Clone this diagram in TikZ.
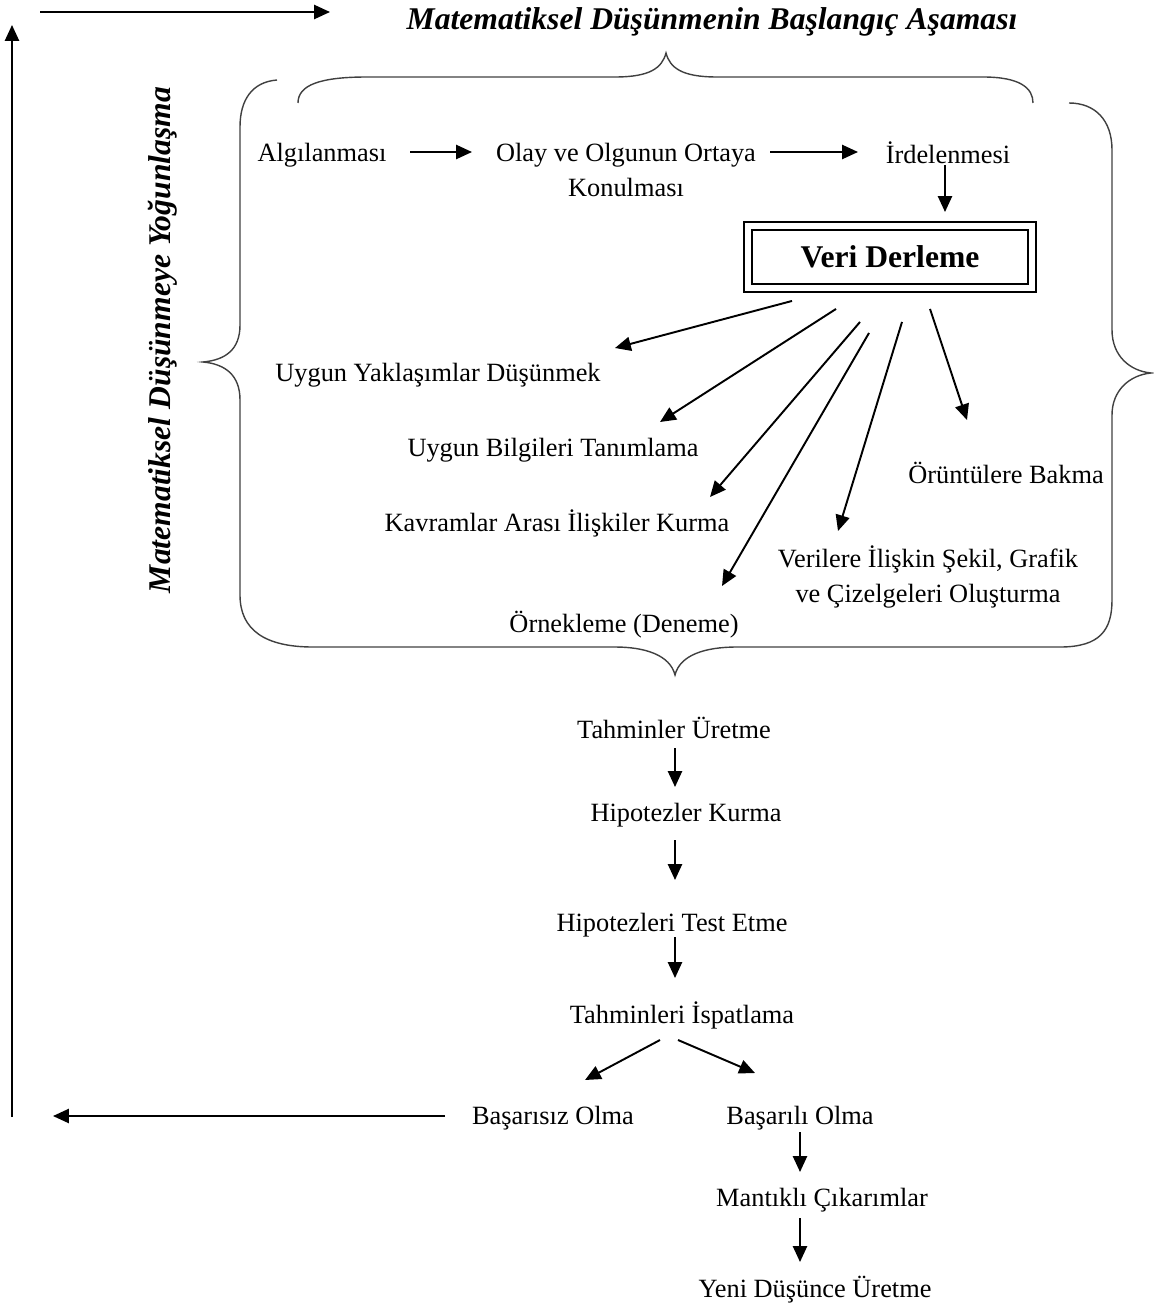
\documentclass[tikz,border=0pt]{standalone}
\usepackage{fontspec}
\setmainfont{Liberation Serif}
\usetikzlibrary{arrows.meta, positioning, calc}

\begin{document}
\begin{tikzpicture}[
    x=0.02cm, y=-0.02cm,
    every node/.style={font=\fontsize{15}{20}\selectfont, inner sep=1pt},
    stage/.style={align=center},
    heading/.style={font=\fontsize{18}{22}\selectfont\bfseries\itshape},
    veribox/.style={draw, double, double distance=3pt, line width=1.1pt, minimum width=5.68cm, minimum height=1.24cm, font=\fontsize{18}{22}\selectfont\bfseries},
    arrow/.style={-{Triangle[length=9pt,width=8pt]}, line width=1.1pt},
    brace/.style={line width=0.8pt, black!75}
]
    \useasboundingbox (0,0) rectangle (1153,1311);

    % Titles
    \node[heading] (titletop) at (712,22) {Matematiksel Düşünmenin Başlangıç Aşaması};
    \node[heading, rotate=90] (titleside) at (163,340) {Matematiksel Düşünmeye Yoğunlaşma};

    % Axes
    \coordinate (topstart) at (40,12);
    \coordinate (topend) at (330,12);
    \coordinate (sidestart) at (12,1117);
    \coordinate (sideend) at (12,25);
    \coordinate (backend) at (53,1116);
    \draw[arrow] (topstart) -- (topend);
    \draw[arrow] (sidestart) -- (sideend);

    % Braces round the first stage
    \draw[brace] (298,103) .. controls (298,85) and (320,77) .. (367,77) -- (615,77)
        .. controls (650,77) and (662,68) .. (666,53) .. controls (670,68) and (682,77) .. (717,77)
        -- (983,77) .. controls (1020,77) and (1033,88) .. (1033,103);
    \draw[brace] (277,80) .. controls (252,82) and (240,100) .. (240,127) -- (240,325)
        .. controls (240,350) and (225,360) .. (203,362) .. controls (225,364) and (240,375) .. (240,400)
        -- (240,595) .. controls (240,630) and (265,647) .. (313,647) -- (615,647)
        .. controls (645,647) and (670,655) .. (675,675) .. controls (680,655) and (705,647) .. (737,647)
        -- (1060,647) .. controls (1100,647) and (1112,630) .. (1112,600) -- (1112,415)
        .. controls (1112,390) and (1130,375) .. (1151,373) .. controls (1130,371) and (1112,356) .. (1112,330)
        -- (1112,150) .. controls (1112,120) and (1095,103) .. (1069,103);

    % First stage
    \node (algi) at (322,155) {Algılanması};
    \node[stage] (olay) at (626,170) {Olay ve Olgunun Ortaya\\Konulması};
    \node (irdele) at (948,153) {İrdelenmesi};
    \node[veribox] (veri) at (890,257) {Veri Derleme};

    \node (yaklasim) at (438,375) {Uygun Yaklaşımlar Düşünmek};
    \node (bilgi) at (553,450) {Uygun Bilgileri Tanımlama};
    \node (kavram) at (557,523) {Kavramlar Arası İlişkiler Kurma};
    \node (ornek) at (624,625) {Örnekleme (Deneme)};
    \node[stage] (sekil) at (928,577) {Verilere İlişkin Şekil, Grafik\\ve Çizelgeleri Oluşturma};
    \node (oruntu) at (1006,473) {Örüntülere Bakma};

    \draw[arrow] ([shift={(88,-3)}]algi.center) -- ([shift={(-154,-18)}]olay.center);
    \draw[arrow] ([shift={(144,-18)}]olay.center) -- ([shift={(-90,-1)}]irdele.center);
    \draw[arrow] ([shift={(-3,12)}]irdele.center) -- ([shift={(55,-45)}]veri.center);

    \draw[arrow] ([shift={(-98,12)}]veri.south) -- ([shift={(177,-27)}]yaklasim.center);
    \draw[arrow] ([shift={(-54,20)}]veri.south) -- ([shift={(107,-28)}]bilgi.center);
    \draw[arrow] ([shift={(-30,33)}]veri.south) -- ([shift={(153,-26)}]kavram.center);
    \draw[arrow] ([shift={(-21,44)}]veri.south) -- ([shift={(98,-39)}]ornek.center);
    \draw[arrow] ([shift={(12,33)}]veri.south) -- ([shift={(-90,-46)}]sekil.center);
    \draw[arrow] ([shift={(40,20)}]veri.south) -- ([shift={(-39,-53)}]oruntu.center);

    % Later stages
    \node (tahmin) at (674,728) {Tahminler Üretme};
    \node (hipotez) at (686,815) {Hipotezler Kurma};
    \node (test) at (672,925) {Hipotezleri Test Etme};
    \node (ispat) at (682,1015) {Tahminleri İspatlama};
    \node (basarisiz) at (553,1118) {Başarısız Olma};
    \node (basarili) at (800,1118) {Başarılı Olma};
    \node (mantik) at (822,1200) {Mantıklı Çıkarımlar};
    \node (yeni) at (815,1290) {Yeni Düşünce Üretme};

    \draw[arrow] ([shift={(1,20)}]tahmin.center) -- ([shift={(-11,-28)}]hipotez.center);
    \draw[arrow] ([shift={(-11,25)}]hipotez.center) -- ([shift={(3,-45)}]test.center);
    \draw[arrow] ([shift={(3,12)}]test.center) -- ([shift={(-7,-37)}]ispat.center);
    \draw[arrow] ([shift={(-22,25)}]ispat.center) -- ([shift={(32,-38)}]basarisiz.center);
    \draw[arrow] ([shift={(-4,25)}]ispat.center) -- ([shift={(-45,-45)}]basarili.center);
    \draw[arrow] ([shift={(0,14)}]basarili.center) -- ([shift={(-22,-28)}]mantik.center);
    \draw[arrow] ([shift={(-22,18)}]mantik.center) -- ([shift={(-15,-28)}]yeni.center);
    \draw[arrow] ([shift={(-108,-2)}]basarisiz.center) -- (backend);
\end{tikzpicture}
\end{document}
